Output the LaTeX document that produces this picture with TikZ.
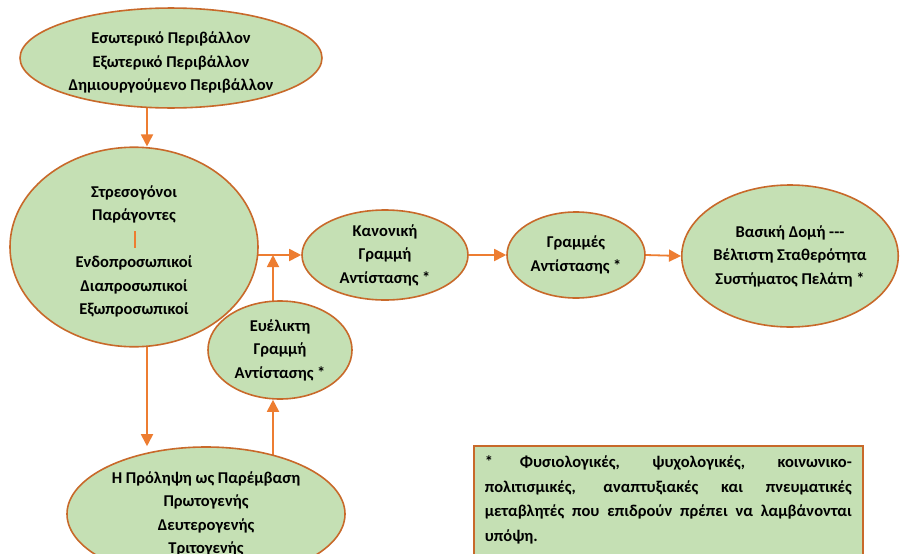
\documentclass[tikz,border=0pt]{standalone}
\usepackage{fontspec}
\setmainfont{Carlito}
\usetikzlibrary{shapes.geometric,arrows.meta}
\definecolor{leaf}{HTML}{C5E0B4}
\definecolor{rim}{HTML}{C8692A}
\definecolor{flow}{HTML}{ED7D31}
\pgfdeclarelayer{back}
\pgfsetlayers{back,main}
\begin{document}
\begin{tikzpicture}[x=1pt,y=1pt,
  bubble/.style={ellipse,draw=rim,fill=leaf,line width=1.6pt,inner sep=0pt,
    align=center,font=\fontsize{16.5}{23.5}\selectfont\bfseries},
  flowline/.style={draw=flow,line width=1.8pt},
  arr/.style={flowline,-{Triangle[length=12pt,width=12pt]}}]
\useasboundingbox (0,0) rectangle (902,-554);

% stages of the model
\node[bubble,minimum width=302,minimum height=92] (env) at (171,-58)
  {\rule{0pt}{21pt}Εσωτερικό Περιβάλλον\\Εξωτερικό Περιβάλλον\\Δημιουργούμενο Περιβάλλον};
\node[bubble,minimum width=248,minimum height=185] (stress) at (134,-247)
  {\rule{0pt}{21pt}Στρεσογόνοι\\Παράγοντες\\[23.5pt]Ενδοπροσωπικοί\\Διαπροσωπικοί\\Εξωπροσωπικοί};
\node[bubble,minimum width=166,minimum height=90] (normal) at (385,-255)
  {Κανονική\\Γραμμή\\Αντίστασης *};
\node[bubble,minimum width=138,minimum height=86] (lines) at (576,-255)
  {Γραμμές\\Αντίστασης *};
\node[bubble,minimum width=216,minimum height=142] (core) at (790,-256)
  {Βασική Δομή -{}-{}-\\Βέλτιστη Σταθερότητα\\Συστήματος Πελάτη *};
\node[bubble,minimum width=144,minimum height=98] (flex) at (280,-350)
  {Ευέλικτη\\Γραμμή\\Αντίστασης *};
\node[bubble,minimum width=278,minimum height=134] (prev) at (206,-514)
  {Η Πρόληψη ως Παρέμβαση\\Πρωτογενής\\Δευτερογενής\\Τριτογενής};

% note on the variables
\node[draw=rim,fill=leaf,line width=1.6pt,anchor=north west,
  text width=367pt,inner xsep=11pt,inner ysep=10pt,align=justify,
  font=\fontsize{16.5}{24.5}\selectfont\bfseries] (note) at (473,-445)
  {* Φυσιολογικές, ψυχολογικές, κοινωνικο-\linebreak
   πολιτισμικές, αναπτυξιακές και πνευματικές\linebreak
   μεταβλητές που επιδρούν πρέπει να λαμβάνονται\linebreak
   υπόψη.\\ \mbox{}};

% bar between the two groups of stressors
\coordinate (bar) at (135,-231);
\draw[flowline] (bar) -- ++(0,-17);

% connectors
\coordinate (ja) at (147,0);
\coordinate (jb) at (273,0);
\begin{pgfonlayer}{back}
\fill[white] (0,0) rectangle (902,-554);
\draw[arr] (env.center -| ja) -- (stress.north -| ja);
\draw[arr] (stress.center -| ja) -- (prev.north -| ja);
\draw[arr] (stress.center |- normal.west) -- (normal.west);
\draw[arr] (flex.center -| jb) -- (normal.west -| jb);
\draw[arr] (prev.center -| jb) -- (flex.south -| jb);
\draw[arr] (normal.east) -- (lines.west);
\draw[arr] (lines.east) -- (core.west);
\end{pgfonlayer}
\end{tikzpicture}
\end{document}
